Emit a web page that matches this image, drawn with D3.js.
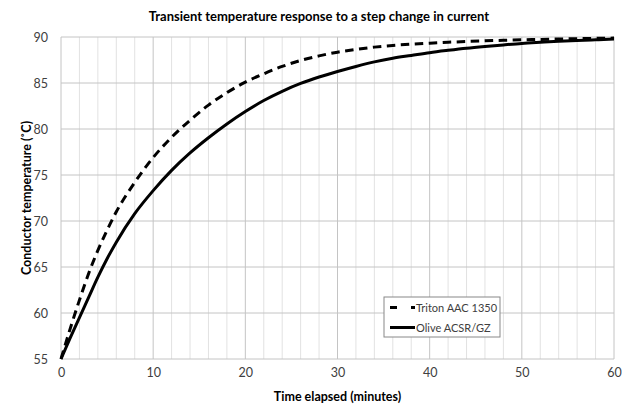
<!DOCTYPE html>
<html>
<head>
<meta charset="utf-8">
<script src="https://cdn.jsdelivr.net/npm/d3@7"></script>
<style>
  body { margin: 0; background: #fff; }
  svg { display: block; font-family: Lato, "Open Sans", sans-serif; }
</style>
</head>
<body>
<div id="chart"></div>
<script>
// time points (minutes)
const minutes = [0, 1, 2, 3, 4, 5, 6, 8, 10, 12, 14, 16, 18, 20, 22, 24, 26, 28, 30,
  32, 34, 36, 38, 40, 42, 44, 46, 48, 50, 52, 54, 56, 58, 60]

// conductor temperature (°C)
const tritonTemp = [55, 58.3, 61.4, 64.3, 66.8, 69.0, 71.0, 74.2, 76.9, 79.1, 80.95, 82.6, 83.95, 85.1,
  86.0, 86.8, 87.45, 87.95, 88.35, 88.65, 88.9, 89.08, 89.22, 89.33, 89.43, 89.51, 89.58, 89.64,
  89.7, 89.74, 89.78, 89.82, 89.85, 89.88]
const oliveTemp = [55, 57.3, 59.5, 61.7, 63.9, 65.9, 67.7, 70.8, 73.3, 75.5, 77.4, 79.05, 80.55, 81.9,
  83.1, 84.1, 84.95, 85.65, 86.25, 86.8, 87.3, 87.7, 88.0, 88.3, 88.55, 88.78, 88.97, 89.14,
  89.3, 89.42, 89.53, 89.62, 89.7, 89.77]

const seriesNames = ['Triton AAC 1350', 'Olive ACSR/GZ']
const xTicks = [0, 10, 20, 30, 40, 50, 60]
const yTicks = [55, 60, 65, 70, 75, 80, 85, 90]

const W = 635, H = 415
const margin = {left: 61, top: 37, right: 21, bottom: 56}

const svg = d3.select('#chart').append('svg')
    .attr('width', W)
    .attr('height', H)

const x = d3.scaleLinear([0, 60], [margin.left, W - margin.right])
const y = d3.scaleLinear([55, 90], [H - margin.bottom, margin.top])

// minor vertical grid every 2 minutes
svg.append('g')
    .selectAll('line')
    .data(d3.range(0, 61, 2).filter(d => d % 10 !== 0))
    .join('line')
      .attr('x1', d => x(d)).attr('x2', d => x(d))
      .attr('y1', y(55)).attr('y2', y(90))
      .attr('stroke', '#e2e2e2')
      .attr('stroke-width', 1)

// major grid
svg.append('g')
    .selectAll('line')
    .data(xTicks)
    .join('line')
      .attr('x1', d => x(d)).attr('x2', d => x(d))
      .attr('y1', y(55)).attr('y2', y(90))
      .attr('stroke', '#c4c4c4')

svg.append('g')
    .selectAll('line')
    .data(yTicks)
    .join('line')
      .attr('x1', x(0)).attr('x2', x(60))
      .attr('y1', d => y(d)).attr('y2', d => y(d))
      .attr('stroke', '#c4c4c4')

// axes (labels only)
const xAxis = d3.axisBottom(x).tickValues(xTicks).tickSize(0).tickPadding(9)
svg.append('g')
    .attr('transform', `translate(0, ${y(55)})`)
    .call(xAxis)
    .call(g => g.select('.domain').remove())
    .call(g => g.selectAll('text')
        .attr('font-size', 12.5)
        .attr('font-family', 'Lato, sans-serif')
        .attr('fill', '#404040'))

const yAxis = d3.axisLeft(y).tickValues(yTicks).tickSize(0).tickPadding(13)
svg.append('g')
    .attr('transform', `translate(${x(0)}, 0)`)
    .call(yAxis)
    .call(g => g.select('.domain').remove())
    .call(g => g.selectAll('text')
        .attr('font-size', 12.5)
        .attr('font-family', 'Lato, sans-serif')
        .attr('fill', '#404040'))

// curves
const table = minutes.map((t, i) => ({t: t, triton: tritonTemp[i], olive: oliveTemp[i]}))

const line = key => d3.line()
    .x(d => x(d.t))
    .y(d => y(d[key]))
    .curve(d3.curveMonotoneX)

svg.append('path')
    .datum(table)
    .attr('d', line('olive'))
    .attr('fill', 'none')
    .attr('stroke', '#000')
    .attr('stroke-width', 3)

svg.append('path')
    .datum(table)
    .attr('d', line('triton'))
    .attr('fill', 'none')
    .attr('stroke', '#000')
    .attr('stroke-width', 3)
    .attr('stroke-dasharray', '8.5,5.5')

// titles
svg.append('text')
    .attr('x', 319)
    .attr('y', 21)
    .attr('text-anchor', 'middle')
    .attr('font-size', 13)
    .attr('font-weight', 'bold')
    .text('Transient temperature response to a step change in current')

svg.append('text')
    .attr('x', (x(0) + x(60)) / 2)
    .attr('y', 401)
    .attr('text-anchor', 'middle')
    .attr('font-size', 12.5)
    .attr('font-weight', 'bold')
    .text('Time elapsed (minutes)')

svg.append('text')
    .attr('transform', `translate(31, ${(y(55) + y(90)) / 2}) rotate(-90)`)
    .attr('text-anchor', 'middle')
    .attr('font-size', 12.5)
    .attr('font-weight', 'bold')
    .text('Conductor temperature (˚C)')

// legend
const legend = svg.append('g').attr('transform', 'translate(384, 297)')
legend.append('rect')
    .attr('width', 116).attr('height', 40)
    .attr('fill', '#fff')
    .attr('stroke', '#888')

const rows = legend.selectAll('g')
    .data(seriesNames)
    .join('g')
      .attr('transform', (d, i) => `translate(0, ${10.5 + i * 20})`)

rows.append('line')
    .attr('x1', 6).attr('x2', 31)
    .attr('stroke', '#000')
    .attr('stroke-width', 3)
    .attr('stroke-dasharray', (d, i) => i === 0 ? '7,14,4' : null)

rows.append('text')
    .attr('x', 32)
    .attr('y', 4)
    .attr('font-size', 11)
    .attr('fill', '#404040')
    .text(d => d)
</script>
</body>
</html>
